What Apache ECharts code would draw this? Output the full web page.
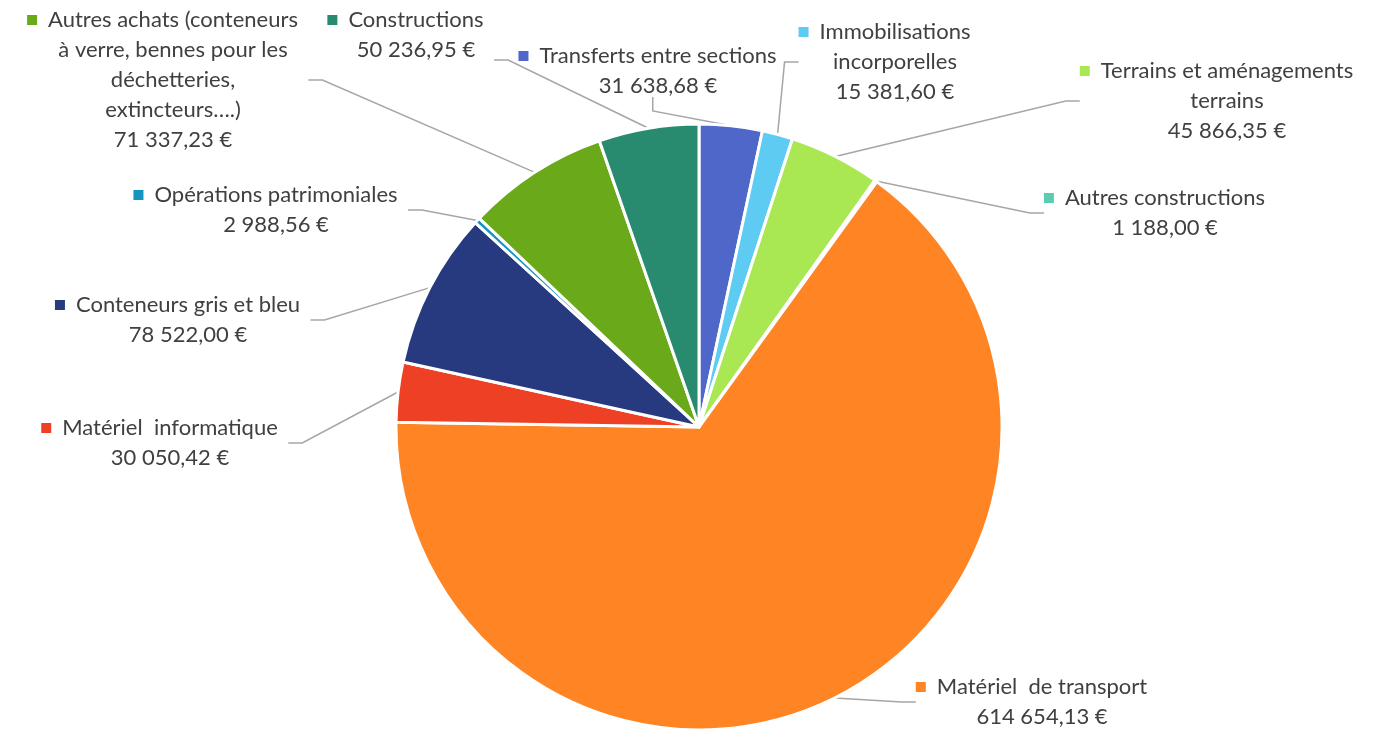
<!DOCTYPE html>
<html><head><meta charset="utf-8">
<script src="https://cdn.jsdelivr.net/npm/echarts@6/dist/echarts.min.js"></script>
<style>html,body{margin:0;padding:0;background:#fff}#c{width:1375px;height:729px}</style>
</head><body><div id="c"></div>
<script>
const categories = [
  'Transferts entre sections',
  'Immobilisations\nincorporelles',
  'Terrains et aménagements\nterrains',
  'Autres constructions',
  'Matériel  de transport',
  'Matériel  informatique',
  'Conteneurs gris et bleu',
  'Opérations patrimoniales',
  'Autres achats (conteneurs\nà verre, bennes pour les\ndéchetteries,\nextincteurs….)',
  'Constructions'
];
const values = [31638.68, 15381.60, 45866.35, 1188.00, 614654.13, 30050.42, 78522.00, 2988.56, 71337.23, 50236.95];
const colors = ['#4F67C8', '#5ECCF2', '#A9E852', '#5ACDB0', '#FF8424', '#EE4024', '#273A80', '#1494C0', '#6AA91A', '#288A6E'];
// label block centres (layout only)
const labelPos = [[658,71],[895,62],[1227,101],[1165,213],[1042,702],[170,443],[188,320],[276,210],[173,80],[416,58]];

function fmt(v){
  const [i,d] = v.toFixed(2).split('.');
  return i.replace(/\B(?=(\d{3})+(?!\d))/g, '\u00a0') + ',' + d + '\u00a0€';
}

const rich = { t: {fontFamily:'Lato', fontSize:22, color:'#404040', lineHeight:30},
  g: {width:11, height:10}, p: {width:21, height:10}, b: {height:46, lineHeight:46, fontSize:10} };
colors.forEach((c,i)=>{ rich['m'+i] = {width:10, height:10, backgroundColor:c}; });

const chart = echarts.init(document.getElementById('c'), null, {renderer:'canvas'});
chart.setOption({
  animation:false,
  series:[{
    type:'pie',
    center:[699,427],
    radius:303,
    startAngle:90,
    clockwise:true,
    avoidLabelOverlap:false,
    data: categories.map((n,i)=>({name:n, value:values[i], itemStyle:{color:colors[i]}})),
    itemStyle:{borderColor:'#fff', borderWidth:3},
    label:{
      show:true,
      position:'outside',
      align:'center',
      rich: rich,
      formatter: (p)=>{
        const lines = p.name.split('\n');
        const out = ['{m'+p.dataIndex+'|}{g|}{t|'+lines[0]+'}{p|}'];
        for(let k=1;k<lines.length;k++) out.push('{t|'+lines[k]+'}');
        out.push('{t|'+fmt(p.value)+'}');
        if (p.dataIndex === 9) out.push('{b| }');
        return out.join('\n');
      }
    },
    labelLine:{show:true, length:10, length2:14, lineStyle:{color:'#A6A6A6', width:1.5}},
    labelLayout: (params)=>{
      const q = labelPos[params.dataIndex];
      return {x:q[0], y:q[1], align:'center', verticalAlign:'middle'};
    }
  }]
});
</script></body></html>
